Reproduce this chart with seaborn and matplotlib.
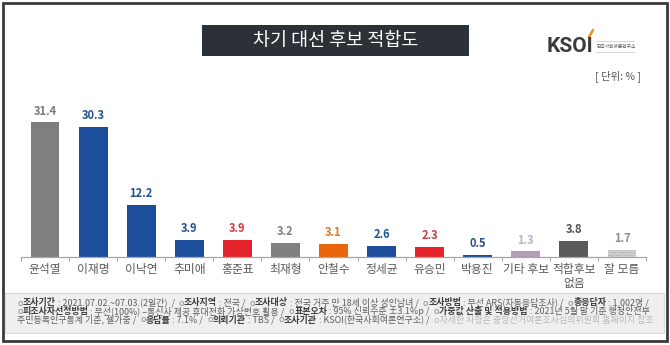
import matplotlib
matplotlib.use('Agg')
import matplotlib.pyplot as plt
import seaborn as sns
import pandas as pd
from matplotlib.patches import Rectangle
from matplotlib.lines import Line2D
from matplotlib.font_manager import FontProperties

# ---------------- data ----------------
categories = ['윤석열', '이재명', '이낙연', '추미애', '홍준표', '최재형', '안철수',
              '정세균', '유승민', '박용진', '기타 후보', '적합후보 없음', '잘 모름']
tick_labels = ['윤석열', '이재명', '이낙연', '추미애', '홍준표', '최재형', '안철수',
               '정세균', '유승민', '박용진', '기타 후보', '적합후보\n없음', '잘 모름']
values = [31.4, 30.3, 12.2, 3.9, 3.9, 3.2, 3.1, 2.6, 2.3, 0.5, 1.3, 3.8, 1.7]
bar_colors = ['#7f7f7f', '#1d4e9c', '#1d4e9c', '#1d4e9c', '#e5232c', '#808080', '#e8650c',
              '#1d4e9c', '#e5232c', '#1d4e9c', '#b59db9', '#595959', '#d2d2d2']
label_colors = ['#7a7a7a', '#23508f', '#23508f', '#23508f', '#cf3a40', '#7f7f7f', '#e07424',
                '#23508f', '#cf3a40', '#23508f', '#c2afc6', '#505050', '#8c8c8c']

title = '차기 대선 후보 적합도'
unit_text = '[ 단위: % ]'

B, N, L, O = 'bold', 'normal', 'light', 'bullet'
foot_line1 = [('o', O), ('조사기간', B), (' : 2021.07.02.~07.03.(2일간)  /  ', N),
              ('o', O), ('조사지역', B), (' : 전국 /  ', N),
              ('o', O), ('조사대상', B), (' : 전국 거주 만 18세 이상 성인남녀 /  ', N),
              ('o', O), ('조사방법', B), (' : 무선 ARS(자동응답조사) /  ', N),
              ('o', O), ('총응답자', B), (' : 1,002명 /', N)]
foot_line2 = [('o', O), ('피조사자선정방법', B), (' : 무선(100%) –통신사 제공 휴대전화 가상번호 활용 /  ', N),
              ('o', O), ('표본오차', B), (' : 95% 신뢰수준 ±3.1%p /  ', N),
              ('o', O), ('가중값 산출 및 적용방법', B), (' : 2021년 5월 말 기준 행정안전부', N)]
foot_line3 = [('주민등록인구통계 기준, 셀가중 /  ', N),
              ('o', O), ('응답률', B), (' : 7.1% /  ', N),
              ('o', O), ('의뢰기관', B), (' : TBS /  ', N),
              ('o', O), ('조사기관', B), (' : KSOI(한국사회여론연구소) /  ', N),
              ('o자세한 사항은 중앙선거여론조사심의위원회 홈페이지 참조', L)]

# ---------------- style ----------------
sns.set_theme(style='white')
plt.rcParams['font.family'] = ['Noto Sans CJK KR', 'DejaVu Sans']
plt.rcParams['hatch.linewidth'] = 0.6

W, H = 670, 345
fig = plt.figure(figsize=(W / 100, H / 100), dpi=100)
fig.patch.set_facecolor('white')

def fx(px):
    return px / W

def fy(py):
    return 1 - py / H

# ---------------- bars ----------------
ax = fig.add_axes([fx(21), 88 / H, 625 / W, 150 / H])
ax.set_facecolor('none')
df = pd.DataFrame({'cat': categories, 'val': values})
sns.barplot(data=df, x='cat', y='val', hue='cat', order=categories, hue_order=categories,
            palette=dict(zip(categories, bar_colors)), legend=False, width=0.6,
            saturation=1, linewidth=0, ax=ax)
ax.set_xlim(-0.5, len(categories) - 0.5)
ax.set_ylim(0, 35)

for p in ax.patches:
    idx = int(round(p.get_x() + p.get_width() / 2))
    if categories[idx] == '잘 모름':
        p.set_hatch('......')
        p.set_edgecolor('#a8a8a8')
        p.set_linewidth(0)

for i, (v, c) in enumerate(zip(values, label_colors)):
    ax.annotate(f'{v:.1f}', (i, v), xytext=(0, 3.5), textcoords='offset points',
                ha='center', va='bottom', fontsize=8, fontweight='bold', color=c)

for s in ['top', 'left', 'right']:
    ax.spines[s].set_visible(False)
ax.spines['bottom'].set_color('#a6a6a6')
ax.spines['bottom'].set_linewidth(0.9)
ax.set_yticks([])
ax.set_xlabel('')
ax.set_ylabel('')
ax.set_xticks(range(len(categories)))
ax.set_xticklabels(tick_labels, fontsize=8.5, color='#595959', linespacing=1.15)
ax.set_xticks([i - 0.5 for i in range(len(categories) + 1)], minor=True)
ax.tick_params(axis='x', which='major', length=0, pad=4, bottom=False)
ax.tick_params(axis='x', which='minor', length=3, width=0.8, color='#a6a6a6',
               direction='out', bottom=True)

# ---------------- decorations ----------------
fig.add_artist(Rectangle((fx(3), fy(341)), 664 / W, 338 / H, transform=fig.transFigure,
                         fill=False, edgecolor='#3a3a3a', linewidth=2.0))
fig.add_artist(Rectangle((fx(202), fy(56)), 267 / W, 31 / H, transform=fig.transFigure,
                         facecolor='#2b3137', edgecolor='none'))
fig.text(fx(335.5), fy(41), title, color='white', fontsize=13.3, fontweight='medium',
         ha='center', va='center')

# logo
fig.text(fx(547), fy(46.5), 'KSOI', fontsize=15, fontweight='bold', color='#3b3b3b',
         ha='left', va='center', family=['Roboto', 'DejaVu Sans'])
fig.add_artist(Line2D([fx(589), fx(593)], [fy(37), fy(30)], transform=fig.transFigure,
                      color='#eb9420', linewidth=1.8, solid_capstyle='round'))
fig.text(fx(597), fy(46), '한국사회여론연구소', fontsize=3.4, color='#555555',
         ha='left', va='center')
for yy in (40.5, 51.5):
    fig.add_artist(Line2D([fx(596), fx(634)], [fy(yy), fy(yy)], transform=fig.transFigure,
                          color='#c8c8c8', linewidth=0.5))

fig.text(fx(641), fy(76), unit_text, fontsize=7.5, color='#595959', ha='right', va='center')

# footnote box
fig.add_artist(Rectangle((fx(5), fy(333)), 659 / W, 40 / H, transform=fig.transFigure,
                         facecolor='#efefef', edgecolor='#dadada', linewidth=0.8))

styles = {
    N: dict(color='#5f5f5f', fontweight='normal'),
    B: dict(color='#3c3c3c', fontweight='bold'),
    L: dict(color='#b8b8b8', fontweight='normal'),
    O: dict(color='#8a8a8a', fontweight='normal'),
}

fig.canvas.draw()
renderer = fig.canvas.get_renderer()

def text_width(s, fs, weight):
    prop = FontProperties(family=['Noto Sans CJK KR', 'DejaVu Sans'], size=fs, weight=weight)
    w1, _, _ = renderer.get_text_width_height_descent('|' + s + '|', prop, False)
    w0, _, _ = renderer.get_text_width_height_descent('||', prop, False)
    return w1 - w0

def runs_width(runs, fs):
    return sum(text_width(t, fs, styles[st]['fontweight']) for t, st in runs)

def draw_runs(runs, x_px, base_py, fs):
    cur = x_px
    for t, st in runs:
        fig.text(fx(cur), fy(base_py), t, fontsize=fs, ha='left', va='baseline', **styles[st])
        cur += text_width(t, fs, styles[st]['fontweight'])

fs0 = 6.0
w_line1 = runs_width(foot_line1, fs0)
fs = fs0 * 629 / w_line1
draw_runs(foot_line1, 17, 305.5, fs)
draw_runs(foot_line2, 17, 314, fs)
draw_runs(foot_line3, 17, 322.5, fs)

fig.savefig('out.png', dpi=100, facecolor='white')
